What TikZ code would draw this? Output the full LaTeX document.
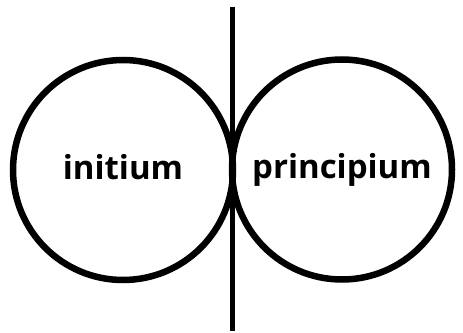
\documentclass[tikz,border=0pt]{standalone}
\usepackage{fontspec}
\setmainfont{Open Sans}
\usepackage{tikz}
\usetikzlibrary{positioning}

\tikzset{
  ring/.style={draw=black, line width=6.5pt, circle, minimum size=220pt,
    inner sep=0pt, font=\fontsize{33}{40}\selectfont\bfseries,
    text height=20pt, text depth=2pt},
  axis/.style={draw=black, line width=5pt}
}

\begin{document}
\begin{tikzpicture}[x=1pt,y=-1pt]
\useasboundingbox (0,0) rectangle (463,332);
% the two circles
\node[ring] (initium) at (123,170) {initium};
\node[ring] (principium) at (342,169.5) {principium};
% the dividing line
\coordinate (top) at (232.5,7);
\coordinate (bottom) at (232.5,331);
\draw[axis] (top) -- (bottom);
\end{tikzpicture}
\end{document}
